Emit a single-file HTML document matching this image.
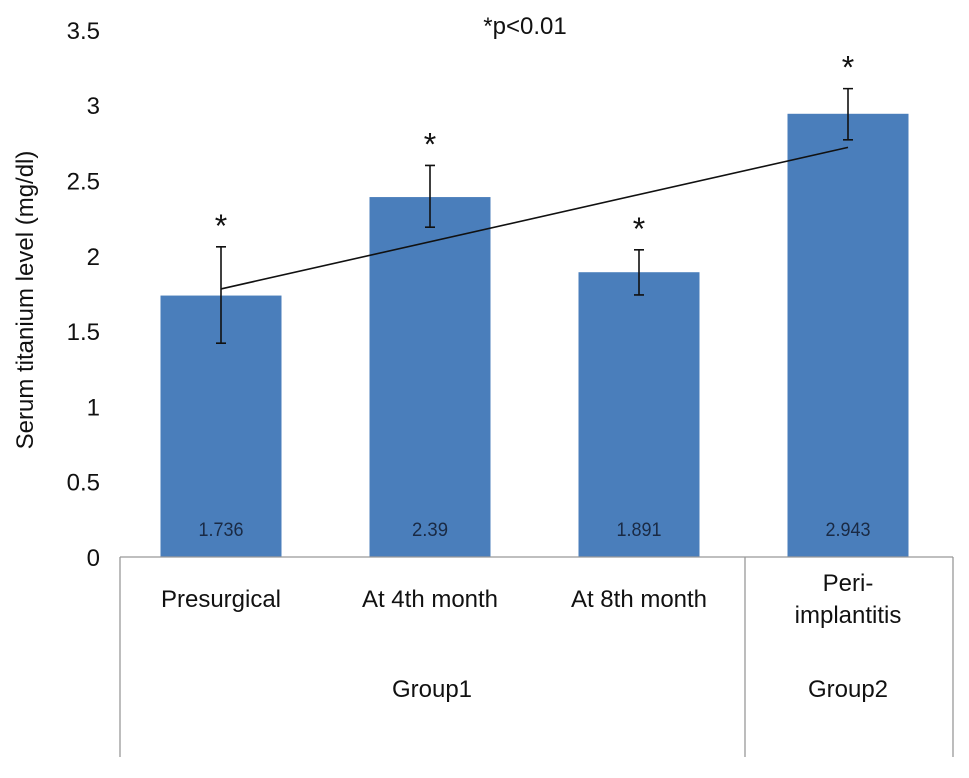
<!DOCTYPE html>
<html><head><meta charset="utf-8"><style>
body{margin:0;background:#fff;}
svg text{font-family:"Liberation Sans",Arial,sans-serif;}
</style></head><body>
<svg id="chart" width="969" height="773" viewBox="0 0 969 773" xmlns="http://www.w3.org/2000/svg"></svg>
<script>
const categories=["Presurgical","At 4th month","At 8th month","Peri-implantitis"];
const values=[1.736,2.39,1.891,2.943];
const valueLabels=["1.736","2.39","1.891","2.943"];
const errLow=[1.42,2.19,1.74,2.77];
const errHigh=[2.06,2.60,2.04,3.11];
const trendStart=1.78;
const trendEnd=2.72;
const yTicks=[0,0.5,1,1.5,2,2.5,3,3.5];
const yTickLabels=["0","0.5","1","1.5","2","2.5","3","3.5"];

const svg=document.getElementById('chart');
const NS="http://www.w3.org/2000/svg";
const X0=120,X1=956,Y0=557,PX=150.6;
const step=(X1-X0)/categories.length;
const y=v=>Y0-v*PX;
const xc=i=>X0+step*(i+0.5)-3.5;
function mk(tag,attrs,txt){const e=document.createElementNS(NS,tag);for(const k in attrs)e.setAttribute(k,attrs[k]);if(txt!==undefined)e.textContent=txt;svg.appendChild(e);return e;}

let t=mk('text',{x:525,y:34,'font-size':24,'text-anchor':'middle',fill:'#111'},'*p<0.01');


t=mk('text',{x:0,y:0,'font-size':24,'text-anchor':'middle',fill:'#111',transform:'translate(33,300) rotate(-90)'},'Serum titanium level (mg/dl)');



yTicks.forEach((v,i)=>{
  const e=mk('text',{x:100,y:y(v)+9,'font-size':24,'text-anchor':'end',fill:'#111'},yTickLabels[i]);
  
  
});

values.forEach((v,i)=>{
  const bw=121;
  const r=mk('rect',{x:xc(i)-bw/2,y:y(v),width:bw,height:Y0-y(v),fill:'#4a7ebb'});
  
  
  const l=mk('text',{x:xc(i),y:536,'font-size':19,'text-anchor':'middle',fill:'#1a2a44',textLength:valueLabels[i].length*9,lengthAdjust:'spacingAndGlyphs'},valueLabels[i]);
  
  
  const g=mk('path',{d:`M${xc(i)},${y(errLow[i])}V${y(errHigh[i])}M${xc(i)-5},${y(errLow[i])}H${xc(i)+5}M${xc(i)-5},${y(errHigh[i])}H${xc(i)+5}`,stroke:'#111','stroke-width':1.6,fill:'none'});
  
  
  const s=mk('text',{x:xc(i),y:y(errHigh[i])-10,'font-size':32,'text-anchor':'middle',fill:'#111'},'*');
  
  
});

const tl=mk('line',{x1:xc(0),y1:y(trendStart),x2:xc(3),y2:y(trendEnd),stroke:'#111','stroke-width':1.6});



const ax=mk('path',{d:`M${X0},${Y0}H${X1-3}M${X0},${Y0}V757M745,${Y0}V757M${X1-3},${Y0}V757`,stroke:'#999','stroke-width':1.3,fill:'none'});



[0,1,2].forEach(i=>{
  const e=mk('text',{x:xc(i),y:607,'font-size':24,'text-anchor':'middle',fill:'#111'},categories[i]);
  
  
});
let e=mk('text',{x:xc(3),y:591,'font-size':24,'text-anchor':'middle',fill:'#111'},'Peri-');


e=mk('text',{x:xc(3),y:623,'font-size':24,'text-anchor':'middle',fill:'#111'},'implantitis');


e=mk('text',{x:432,y:697,'font-size':24,'text-anchor':'middle',fill:'#111'},'Group1');


e=mk('text',{x:xc(3),y:697,'font-size':24,'text-anchor':'middle',fill:'#111'},'Group2');


</script>
</body></html>
